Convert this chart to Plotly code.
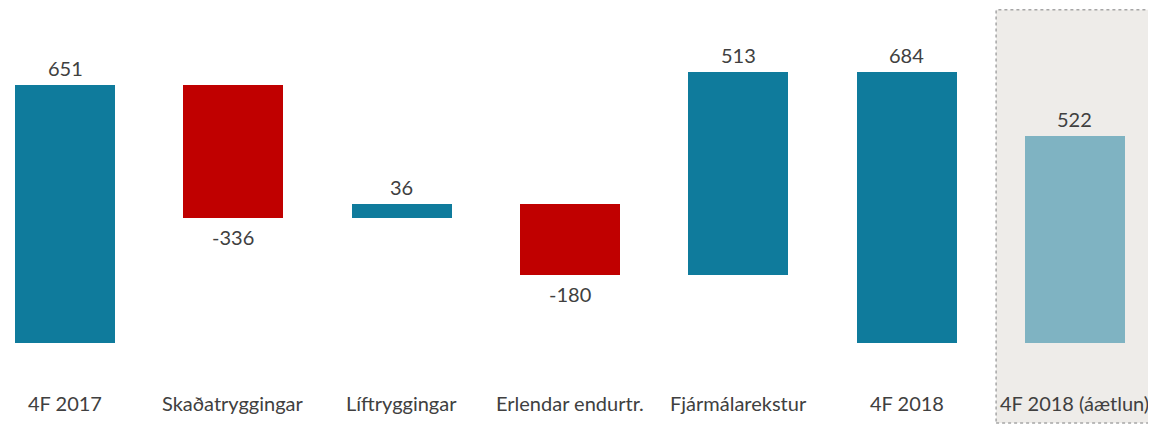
import plotly.graph_objects as go

categories = ["4F 2017", "Skaðatryggingar", "Líftryggingar", "Erlendar endurtr.",
              "Fjármálarekstur", "4F 2018", "4F 2018 (áætlun)"]
values = [651, -336, 36, -180, 513, 684, 522]
kinds = ["total", "delta", "delta", "delta", "delta", "total", "plan"]

TEAL = "#0F7B9C"
RED = "#C00000"
LIGHT = "#7FB3C2"
TXT = "#404040"
FONT = "Lato, Carlito, Calibri, sans-serif"
FS = 20

bases, heights, colors = [], [], []
running = 0
for v, k in zip(values, kinds):
    if k == "delta":
        bases.append(running)
        heights.append(v)
        running += v
        colors.append(TEAL if v >= 0 else RED)
    else:
        bases.append(0)
        heights.append(v)
        if k == "total":
            running = v
        colors.append(TEAL if k == "total" else LIGHT)

xs = list(range(len(categories)))

fig = go.Figure()
fig.add_trace(go.Bar(x=xs, y=heights, base=bases, marker=dict(color=colors, line=dict(width=0)),
                     width=0.594, hoverinfo="skip"))

annotations = []
for i, (b, h) in enumerate(zip(bases, heights)):
    end = b + h
    shift = 17 if h >= 0 else -19
    annotations.append(dict(x=i, y=end, xref="x", yref="y", text=str(values[i]), showarrow=False,
                            yshift=shift, font=dict(size=FS, color=TXT, family=FONT)))
    annotations.append(dict(x=i, y=-151, xref="x", yref="y", text=categories[i], showarrow=False,
                            font=dict(size=FS, color=TXT, family=FONT)))

fig.add_shape(type="rect", xref="x", yref="paper", x0=5.532, x1=6.459, y0=0.005, y1=0.996,
              fillcolor="#EEECE9", line=dict(color="#A6A6A6", width=1.5, dash="dot"), layer="below")

fig.update_layout(
    width=1148, height=417,
    margin=dict(l=0, r=0, t=0, b=0),
    paper_bgcolor="white", plot_bgcolor="white",
    showlegend=False,
    annotations=annotations,
    xaxis=dict(range=[-0.339, 6.482], visible=False, fixedrange=True),
    yaxis=dict(range=[-207, 846], visible=False, fixedrange=True),
    bargap=0,
)

fig.write_html("out.html")
